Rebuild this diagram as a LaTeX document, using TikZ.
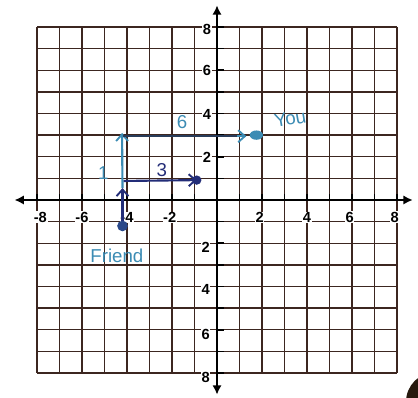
\documentclass[tikz,border=0pt]{standalone}
\usepackage{fontspec}
\setmainfont{Liberation Sans}
\usetikzlibrary{arrows.meta}
\definecolor{gridbrown}{RGB}{60,38,32}
\definecolor{inknavy}{RGB}{35,45,120}
\definecolor{inkteal}{RGB}{60,140,180}
\definecolor{inkdark}{RGB}{40,60,90}
\tikzset{
  gridline/.style={draw=gridbrown,line width=1.1pt},
  axisline/.style={draw=black,line width=2.2pt,{Latex[length=7pt,width=7pt]}-{Latex[length=7pt,width=7pt]}},
  tickmark/.style={draw=black,line width=1.2pt},
  axlabel/.style={font=\bfseries\fontsize{11}{11}\selectfont,text=black,inner sep=0.5pt,fill=white},
  hand/.style={font=\fontsize{14}{14}\selectfont,inner sep=0.5pt},
  navyarrow/.style={draw=inknavy,line width=1.6pt,-{Straight Barb[length=5pt,width=9pt,line width=1.4pt]}},
  tealarrow/.style={draw=inkteal,line width=1.6pt,-{Straight Barb[length=5pt,width=9pt,line width=1.4pt]}},
}
\begin{document}
\begin{tikzpicture}[x=0.75pt,y=-0.75pt]
\useasboundingbox (0,0) rectangle (418,398);
\clip (0,0) rectangle (418,398);
\fill[white] (0,0) rectangle (418,398);
\fill[black!80!brown] (436,402) circle (30);
% grid, in pixel units
\foreach \k in {0,1,2,3,4,5,6,7,8,9,10,11,12,13,14,15,16} {
  \draw[gridline] ({37+22.5*\k},27) -- ({37+22.5*\k},373);
  \draw[gridline] (37,{27+21.625*\k}) -- (397,{27+21.625*\k});
}
\begin{scope}[shift={(217,200)},x=16.875pt,y=16.22pt]
  % axes
  \coordinate (xl) at (-9.0,0);
  \coordinate (xr) at (8.7,0);
  \coordinate (yb) at (0,-9.0);
  \coordinate (yt) at (0,9.0);
  \draw[axisline] (xl) -- (xr);
  \draw[axisline] (yb) -- (yt);
  \foreach \t in {-8,-7,-6,-5,-4,-3,-2,-1,1,2,3,4,5,6,7,8} {
    \draw[tickmark] (\t,0) -- (\t,0.3);
    \draw[tickmark] (0,\t) -- (0.3,\t);
  }
  % x labels
  \foreach \v/\p in {-8/-7.85,-6/-6.0,-4/-4.0,-2/-2.1,2/1.9,4/4.0,6/5.9,8/7.9}
    \node[axlabel] (x\v) at (\p,-0.8) {\v};
  % y labels
  \foreach \v/\p in {8/7.9,6/6.0,4/3.95,2/1.95}
    \node[axlabel] (yp\v) at (-0.45,\p) {\v};
  \foreach \v/\p in {2/-2.2,4/-4.15,6/-6.2,8/-8.2}
    \node[axlabel] (yn\v) at (-0.5,\p) {\v};
  % annotations
  \coordinate (F) at (-4.2,-1.2);
  \coordinate (A) at (-4.2,0.55);
  \coordinate (B) at (-4.22,3.1);
  \coordinate (C) at (-4.15,0.88);
  \coordinate (D) at (-0.9,0.92);
  \coordinate (E) at (-4.2,2.95);
  \coordinate (G) at (1.3,2.95);
  \draw[tealarrow] (A) -- (B);
  \draw[navyarrow] (F) -- (A);
  \fill[inknavy!70!inkteal] (F) circle (4pt);
  \draw[navyarrow] (C) -- (D);
  \fill[inknavy] (D) circle (3.5pt);
  \draw[draw=inkdark,line width=1.4pt] (E) -- (G);
  \draw[inkteal,line width=1.6pt,-{Straight Barb[length=5pt,width=9pt,line width=1.4pt]}] (0.9,2.95) -- (G);
  \fill[inkteal] (1.75,3.0) ellipse (5pt and 3.5pt);
  \node[hand,text=inknavy] (three) at (-2.45,1.4) {3};
  \node[hand,text=inkteal] (one) at (-5.05,1.25) {1};
  \node[hand,text=inkteal] (six) at (-1.55,3.6) {6};
  \node[hand,text=inkteal,rotate=10] (you) at (3.25,3.75) {You};
  \node[hand,text=inkteal] (friend) at (-4.45,-2.6) {Friend};
\end{scope}
\end{tikzpicture}
\end{document}
